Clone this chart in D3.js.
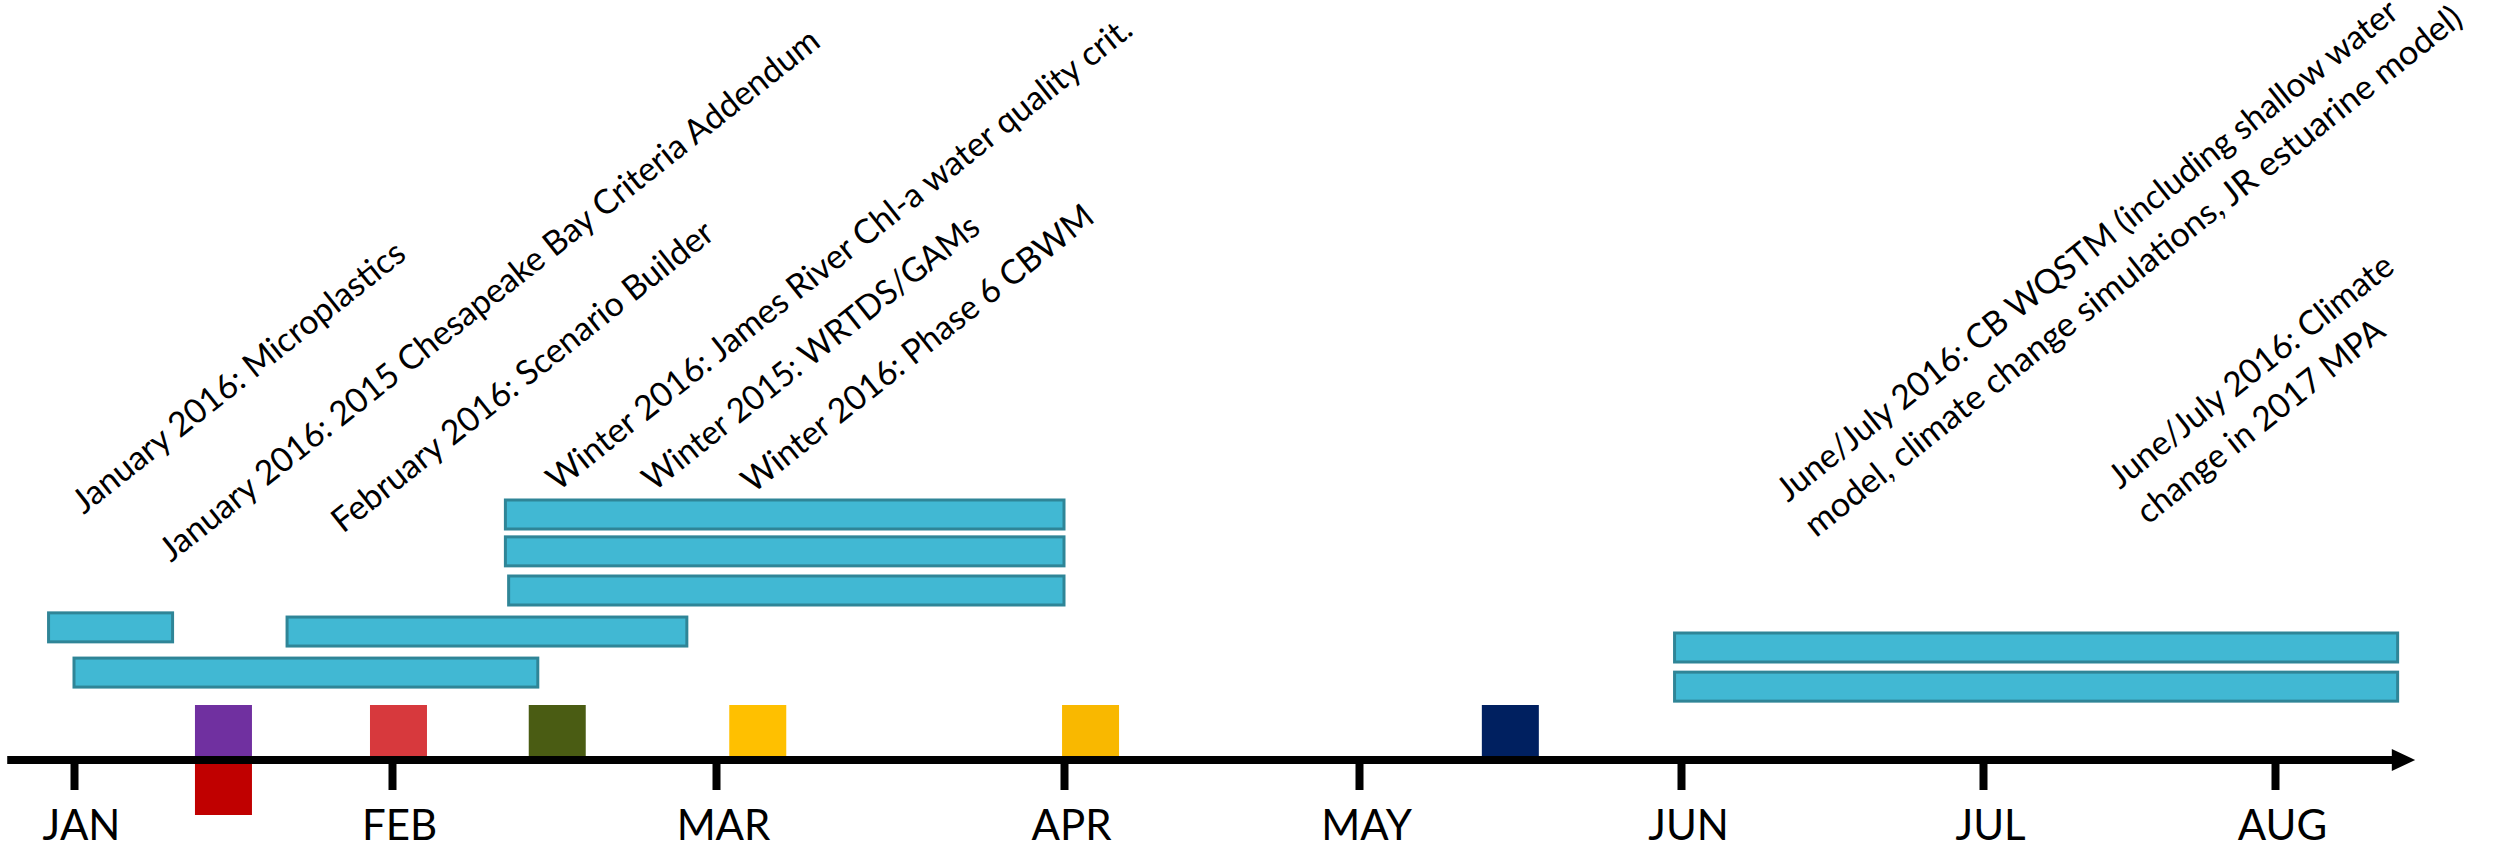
<!DOCTYPE html>
<html>
<head>
<meta charset="utf-8">
<script src="https://cdn.jsdelivr.net/npm/d3@7/dist/d3.min.js"></script>
<style>
  body { margin: 0; background: #fff; }
  svg { display: block; }
  text { font-family: Lato, 'Open Sans', sans-serif; fill: #000; }
</style>
</head>
<body>
<svg id="timeline" width="2499" height="848"></svg>
<script>
// month ticks, 0 = Jan 2016 ... 7 = Aug 2016
const months = ['JAN', 'FEB', 'MAR', 'APR', 'MAY', 'JUN', 'JUL', 'AUG'];

// project bars (start / end in months since Jan 1, lane = stacking row)
const barStart = [-0.08, 0.0, 0.67, 1.35, 1.35, 1.36, 4.98, 4.98];
const barEnd = [0.31, 1.45, 1.91, 3.0, 3.0, 3.0, 7.42, 7.42];
const barLane = [2.97, 4.16, 3.08, 0, 0.97, 2.0, 3.5, 4.53];

// milestone squares (month, side of the axis)
const msMonth = [0.47, 0.47, 1.02, 1.51, 2.12, 3.09, 4.47];
const msSide = ['up', 'down', 'up', 'up', 'up', 'up', 'up'];

// annotations (lines of text, month where the text starts)
const labels = [
  ['January 2016: Microplastics'],
  ['January 2016: 2015 Chesapeake Bay Criteria Addendum'],
  ['February 2016: Scenario Builder'],
  ['Winter 2016: James River Chl-a water quality crit.'],
  ['Winter 2015: WRTDS/GAMs'],
  ['Winter 2016: Phase 6 CBWM'],
  ['June/July 2016: CB WQSTM (including shallow water', 'model, climate change simulations, JR estuarine model)'],
  ['June/July 2016: Climate', 'change in 2017 MPA']
];
const labelMonth = [0.031, 0.305, 0.846, 1.512, 1.809, 2.106, 5.354, 6.469];

// ---- layout / styles ----
const msFill = ['#7030A0', '#C00000', '#D7393D', '#4A5C13', '#FFC000', '#F9B800', '#002060'];
const labelBaseY = [515, 563, 534, 492, 492, 494, 503, 490];
// line lengths as set in the original (narrow Calibri-like face)
const labelLen = [[414], [832], [477], [737], [419], [439], [783, 829], [353, 306]];
const tickX = [74, 392, 716, 1064, 1359, 1681, 1983, 2275]; // hand-drawn month spacing
const axisY = 760;
const lineH = 45;

const svg = d3.select('svg#timeline');

const x = d3.scaleLinear().domain(d3.range(months.length)).range(tickX);
const lane = d3.scaleLinear().domain([0, 1]).range([500, 538]);

// bars
svg.append('g')
  .selectAll('rect')
  .data(barStart.map((s, i) => ({s, e: barEnd[i], l: barLane[i]})))
  .join('rect')
  .attr('x', d => x(d.s))
  .attr('y', d => lane(d.l))
  .attr('width', d => x(d.e) - x(d.s))
  .attr('height', 29)
  .attr('fill', '#41B8D3')
  .attr('stroke', '#2F8597')
  .attr('stroke-width', 3);

// milestones
const msW = 57, msH = 51;
svg.append('g')
  .selectAll('rect')
  .data(msMonth.map((m, i) => ({m, side: msSide[i], c: msFill[i]})))
  .join('rect')
  .attr('x', d => x(d.m) - msW / 2)
  .attr('y', d => d.side === 'up' ? axisY - 4 - msH : axisY + 4)
  .attr('width', msW)
  .attr('height', msH)
  .attr('fill', d => d.c);

// axis
const axis = d3.axisBottom(x)
  .tickValues(d3.range(months.length))
  .tickFormat(i => months[i])
  .tickSize(31);

const gAxis = svg.append('g')
  .attr('transform', `translate(0,${axisY - 1})`)
  .call(axis);
gAxis.select('.domain').remove();
gAxis.selectAll('.tick line').attr('stroke', '#000').attr('stroke-width', 8);
gAxis.selectAll('.tick text')
  .attr('y', 81)
  .attr('dy', 0)
  .attr('dx', 7)
  .attr('font-size', 42)
  .attr('font-family', 'Lato, sans-serif')
  .attr('fill', '#000');

// main line with arrow head
const xEnd = x(7.40), xTip = x(7.48);
svg.append('line')
  .attr('x1', x(-0.21)).attr('x2', xEnd + 3)
  .attr('y1', axisY).attr('y2', axisY)
  .attr('stroke', '#000').attr('stroke-width', 8);
svg.append('path')
  .attr('d', `M${xEnd},${axisY - 11}L${xTip},${axisY}L${xEnd},${axisY + 11}Z`)
  .attr('fill', '#000');

// rotated annotations
const gLab = svg.append('g')
  .selectAll('g')
  .data(labels)
  .join('g')
  .attr('transform', (d, i) => `translate(${x(labelMonth[i])},${labelBaseY[i]}) rotate(-38.5)`);

gLab.selectAll('text')
  .data((d, i) => d.map((t, j) => ({t, len: labelLen[i][j]})))
  .join('text')
  .attr('x', 0)
  .attr('y', (d, j) => j * lineH)
  .attr('font-size', 34)
  .attr('textLength', d => d.len)
  .attr('lengthAdjust', 'spacingAndGlyphs')
  .text(d => d.t);
</script>
</body>
</html>
